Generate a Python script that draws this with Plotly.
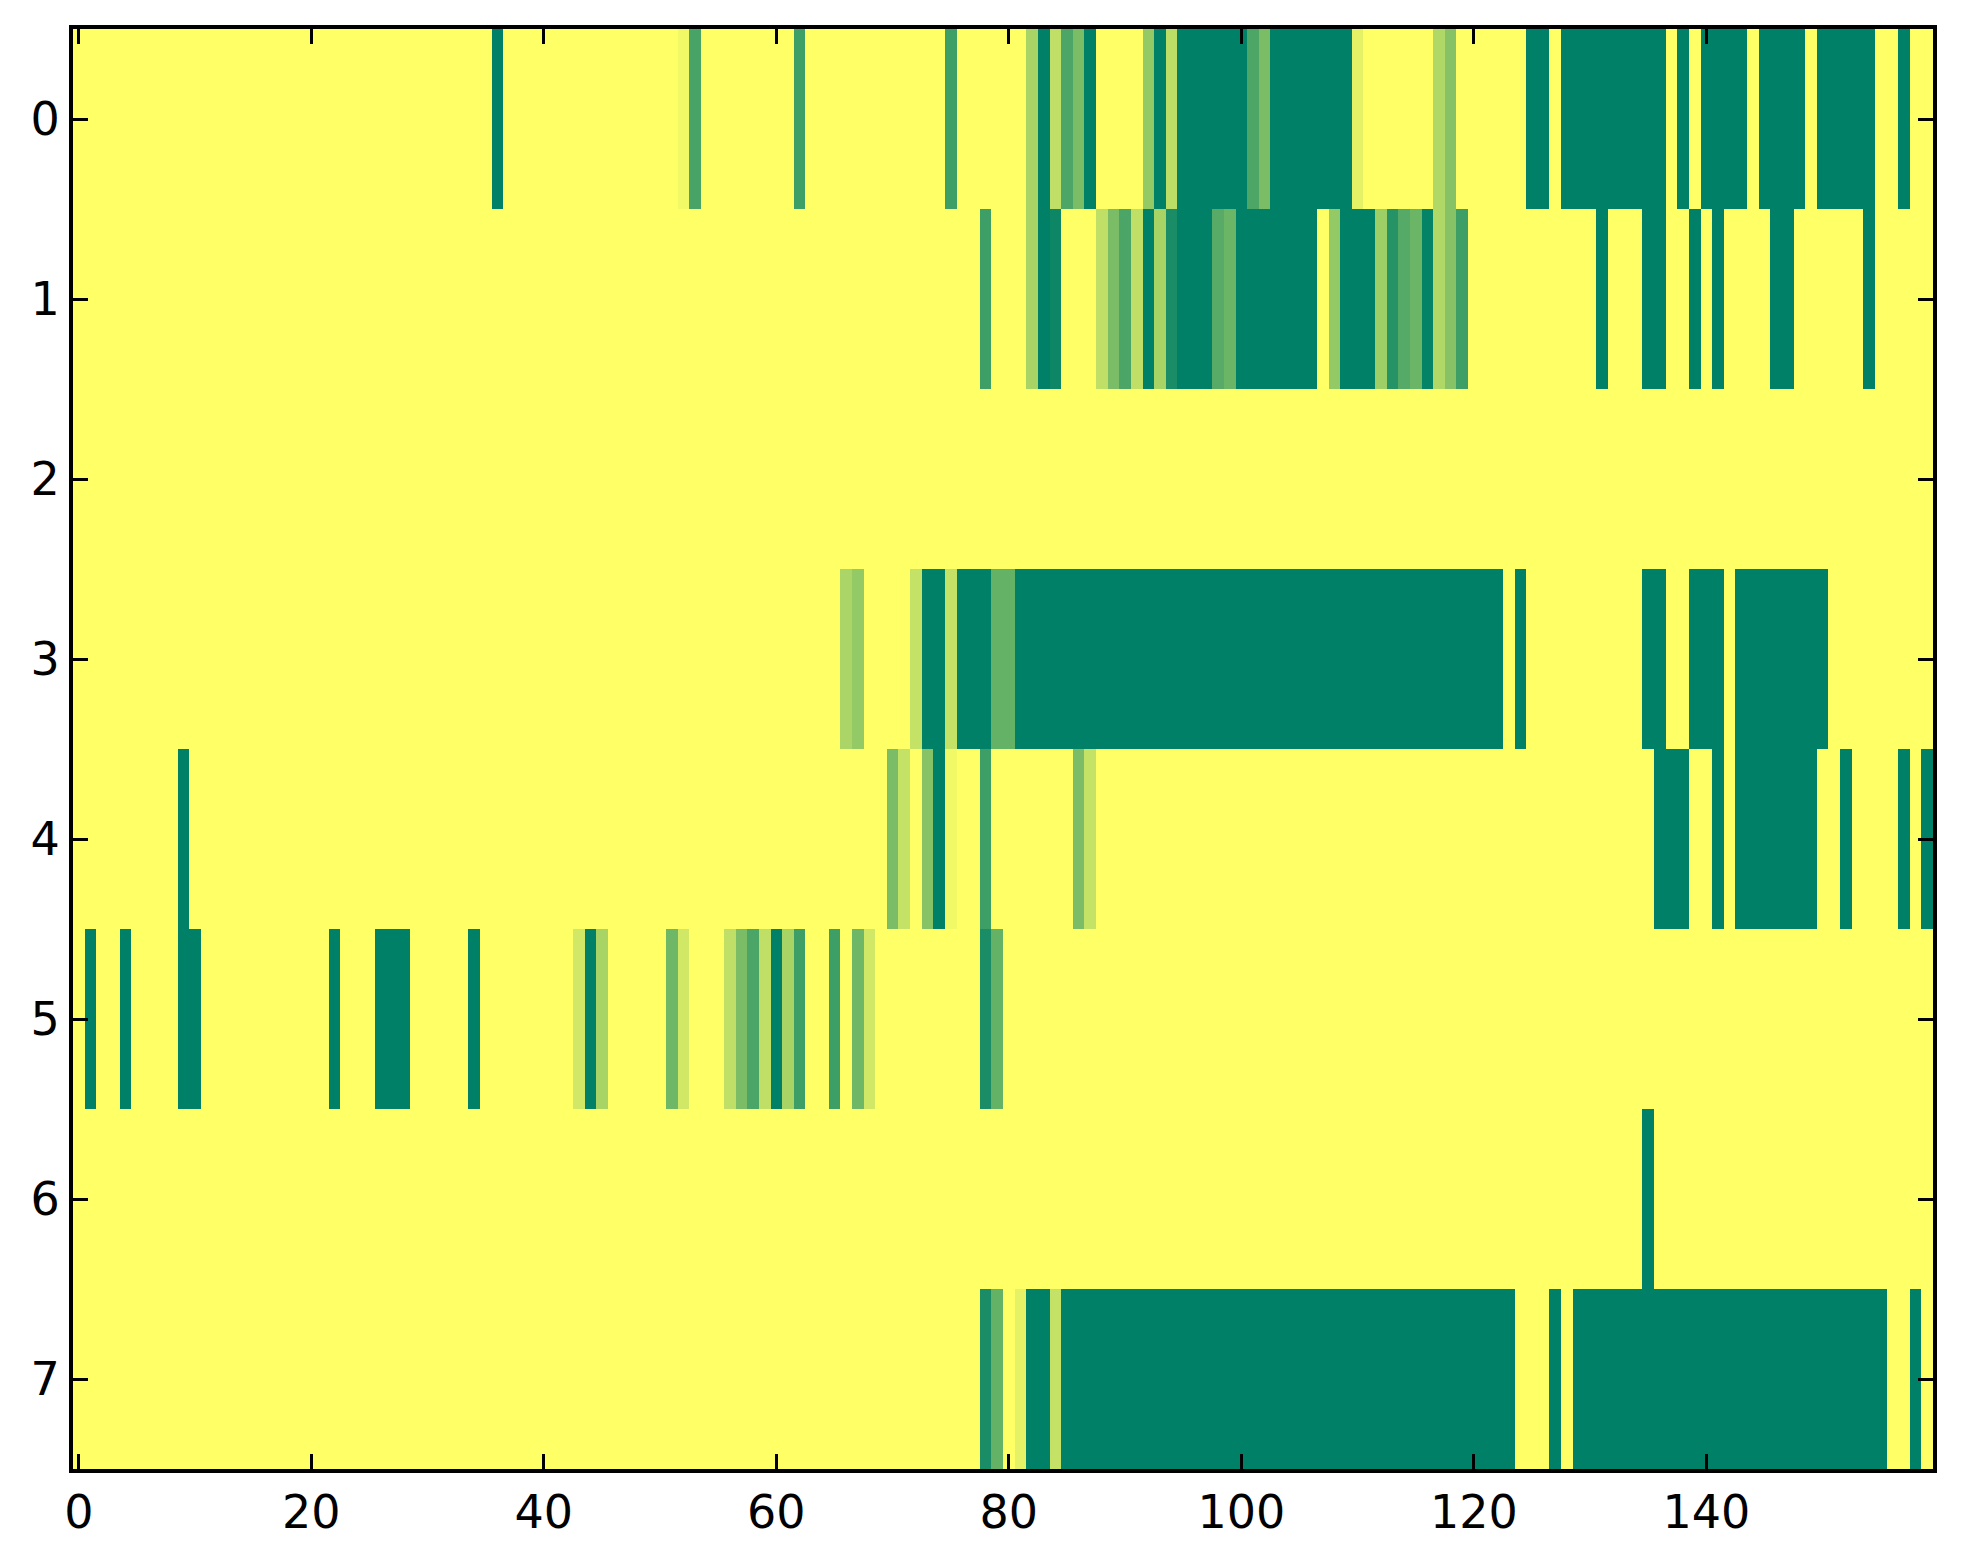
import numpy as np
import plotly.graph_objects as go

# cell values per row, stored as (value, run length) read left to right
# 1 = yellow background, 0 = dark green
row0 = [(1, 36), (0, 1), (1, 15), (0.95, 1), (0.28, 1), (1, 8), (0.24, 1), (1, 12),
        (0.24, 1), (1, 6), (0.66, 1), (0, 1), (0.75, 1), (0.3, 1), (0.48, 1), (0, 1),
        (1, 4), (0.58, 1), (0, 1), (0.74, 1), (0, 6), (0.3, 1), (0.48, 1), (0, 7),
        (0.9, 1), (1, 6), (0.69, 1), (0.53, 1), (1, 6), (0, 2), (1, 1), (0, 9), (1, 1),
        (0, 1), (1, 1), (0, 4), (1, 1), (0, 4), (1, 1), (0, 5), (1, 2), (0, 1), (1, 2)]
row1 = [(1, 78), (0.24, 1), (1, 3), (0.66, 1), (0, 1), (0.05, 1), (1, 3), (0.75, 1),
        (0.48, 1), (0.29, 1), (0.75, 1), (0, 1), (0.66, 1), (0.1, 1), (0, 3), (0.34, 1),
        (0.42, 1), (0, 7), (1, 1), (0.58, 1), (0, 3), (0.62, 1), (0.15, 1), (0.33, 1),
        (0.42, 1), (0.02, 1), (0.69, 1), (0.53, 1), (0.24, 1), (1, 11), (0, 1), (1, 3),
        (0, 2), (1, 2), (0, 1), (1, 1), (0, 1), (1, 4), (0, 2), (1, 6), (0, 1), (1, 5)]
row2 = [(1, 160)]
row3 = [(1, 66), (0.67, 1), (0.58, 1), (1, 4), (0.77, 1), (0, 2), (0.77, 1), (0, 3),
        (0.39, 2), (0, 42), (1, 1), (0, 1), (1, 10), (0, 2), (1, 2), (0, 3), (1, 1),
        (0, 8), (1, 9)]
row4 = [(1, 9), (0, 1), (1, 60), (0.48, 1), (0.77, 1), (1, 1), (0.53, 1), (0, 1),
        (0.95, 1), (1, 2), (0.24, 1), (1, 7), (0.48, 1), (0.77, 1), (1, 48), (0, 3),
        (1, 2), (0, 1), (1, 1), (0, 7), (1, 2), (0, 1), (1, 4), (0, 1), (1, 1), (0, 1)]
row5 = [(1, 1), (0, 1), (1, 2), (0, 1), (1, 4), (0, 2), (1, 11), (0, 1), (1, 3), (0, 3),
        (1, 5), (0, 1), (1, 8), (0.82, 1), (0, 1), (0.66, 1), (1, 5), (0.43, 1), (0.82, 1),
        (1, 3), (0.75, 1), (0.48, 1), (0.29, 1), (0.75, 1), (0, 1), (0.66, 1), (0.24, 1),
        (1, 2), (0.24, 1), (1, 1), (0.43, 1), (0.82, 1), (1, 9), (0.1, 1), (0.39, 1), (1, 80)]
row6 = [(1, 135), (0, 1), (1, 24)]
row7 = [(1, 78), (0.1, 1), (0.39, 1), (1, 1), (0.9, 1), (0, 2), (0.77, 1), (0, 39),
        (1, 3), (0, 1), (1, 1), (0, 27), (1, 2), (0, 1), (1, 1)]

rows = [row0, row1, row2, row3, row4, row5, row6, row7]
x_ticks = [0, 20, 40, 60, 80, 100, 120, 140]
y_ticks = [0, 1, 2, 3, 4, 5, 6, 7]


def expand(runs):
    out = []
    for v, n in runs:
        out += [v] * n
    return out


z = np.array([expand(r) for r in rows])
ncols = z.shape[1]

# matplotlib "summer" colormap (linear in RGB)
summer = [[0, "rgb(0,127.5,102)"], [1, "rgb(255,255,102)"]]

fig = go.Figure(go.Heatmap(
    z=z,
    x=np.arange(ncols),
    y=np.arange(len(rows)),
    colorscale=summer,
    zmin=0, zmax=1,
    showscale=False,
    hoverinfo="skip",
))

axis_style = dict(
    showline=True, linecolor="black", linewidth=4, mirror="ticks",
    ticks="inside", ticklen=15, tickwidth=2.5, tickcolor="black",
    showgrid=False, zeroline=False,
    tickfont=dict(family="DejaVu Sans", size=46, color="black"),
)

fig.update_xaxes(range=[-0.5, ncols - 0.5], tickvals=x_ticks, **axis_style)
fig.update_yaxes(range=[len(rows) - 0.5, -0.5], tickvals=y_ticks, **axis_style)

# page body has an 8px margin, so the figure is sized to fit inside the window
fig.update_layout(
    width=1947, height=1548,
    margin=dict(l=65, r=22, t=21, b=87),
    paper_bgcolor="white", plot_bgcolor="white",
)

fig.write_html("out.html")
